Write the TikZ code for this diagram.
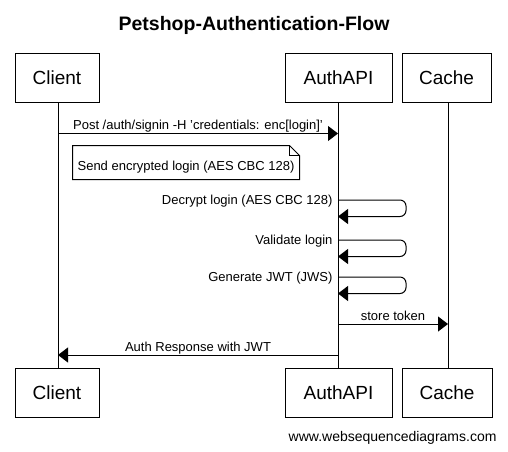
\documentclass[tikz,border=0pt]{standalone}
\usepackage{fontspec}
\setmainfont{Liberation Sans}
\usetikzlibrary{arrows.meta}
\begin{document}
\begin{tikzpicture}[x=1pt,y=-1pt,line width=1pt,
  actor/.style={draw,inner sep=0pt,minimum height=49pt,font=\fontsize{19}{22}\selectfont,text height=13.6pt,text depth=0pt},
  msgtxt/.style={font=\fontsize{13}{15}\selectfont,inner sep=0pt},
  msg/.style={-{Triangle[length=10pt,width=15pt]}},
  life/.style={line width=1pt}]
\useasboundingbox (0,0) rectangle (508,451);
% title
\node[inner sep=0pt,anchor=base,font=\fontsize{19.5}{22}\selectfont\bfseries] (title) at (254,30) {Petshop-Authentication-Flow};
% actors top
\node[actor,minimum width=84pt] (clientT) at (57,77.5) {Client};
\node[actor,minimum width=107pt] (authT) at (338.5,77.5) {AuthAPI};
\node[actor,minimum width=89pt] (cacheT) at (446.5,77.5) {Cache};
% actors bottom
\node[actor,minimum width=84pt] (clientB) at (57,392.5) {Client};
\node[actor,minimum width=107pt] (authB) at (338.5,392.5) {AuthAPI};
\node[actor,minimum width=90pt] (cacheB) at (447,392.5) {Cache};
% lifelines
\coordinate (cl1) at (58,102);
\coordinate (cl2) at (58,368);
\coordinate (al1) at (338,102);
\coordinate (al2) at (338,368);
\coordinate (ca1) at (448,102);
\coordinate (ca2) at (448,368);
\draw[life] (cl1) -- (cl2);
\draw[life] (al1) -- (al2);
\draw[life] (ca1) -- (ca2);
% message 1
\coordinate (m1a) at (58,133.5);
\coordinate (m1b) at (338,133.5);
\draw[msg] (m1a) -- (m1b);
\node[msgtxt,anchor=base] (m1t) at (198,129.5) {Post /auth/signin -H 'credentials: enc[login]'};
% note
\node[msgtxt,anchor=base,minimum width=226pt,text height=24pt,text depth=9pt] (note) at (186,170) {Send encrypted login (AES CBC 128)};
\draw (note.south west) -- (note.north west) -- ([xshift=-10pt]note.north east) -- ([yshift=-10pt]note.north east) -- (note.south east) -- cycle;
\draw ([xshift=-10pt]note.north east) -- ([xshift=-10pt,yshift=-10pt]note.north east) -- ([yshift=-10pt]note.north east);
% self messages
\coordinate (s1a) at (338,200);
\coordinate (s1b) at (338,216.5);
\draw[msg,rounded corners=6pt] (s1a) -- (406,200) -- (406,216.5) -- (s1b);
\node[msgtxt,anchor=base east] (s1t) at (333,204.5) {Decrypt login (AES CBC 128)};
\coordinate (s2a) at (338,240);
\coordinate (s2b) at (338,256.5);
\draw[msg,rounded corners=6pt] (s2a) -- (406,240) -- (406,256.5) -- (s2b);
\node[msgtxt,anchor=base east] (s2t) at (333,244.5) {Validate login};
\coordinate (s3a) at (338,277);
\coordinate (s3b) at (338,293.5);
\draw[msg,rounded corners=6pt] (s3a) -- (406,277) -- (406,293.5) -- (s3b);
\node[msgtxt,anchor=base east] (s3t) at (333,281.5) {Generate JWT (JWS)};
% store token
\coordinate (m2a) at (338,324);
\coordinate (m2b) at (448,324);
\draw[msg] (m2a) -- (m2b);
\node[msgtxt,anchor=base] (m2t) at (393,320) {store token};
% auth response
\coordinate (m3a) at (338,355);
\coordinate (m3b) at (58,355);
\draw[msg] (m3a) -- (m3b);
\node[msgtxt,anchor=base] (m3t) at (198,351) {Auth Response with JWT};
% footer
\node[inner sep=0pt,anchor=base east,font=\fontsize{14}{16}\selectfont] (footer) at (497,441) {www.websequencediagrams.com};
\end{tikzpicture}
\end{document}
